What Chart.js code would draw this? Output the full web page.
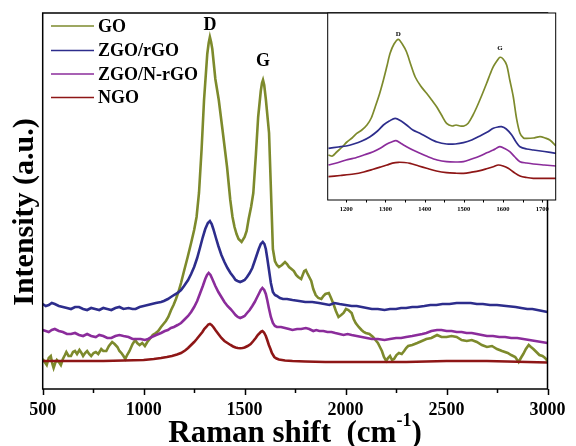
<!DOCTYPE html>
<html><head><meta charset="utf-8">
<script src="https://cdn.jsdelivr.net/npm/chart.js@4.4.1/dist/chart.umd.min.js"></script>
<style>
html,body{margin:0;padding:0;background:#fff;}
#wrap{position:relative;width:576px;height:446px;overflow:hidden;}
canvas{position:absolute;}
</style>
</head><body>
<div id="wrap">
<canvas id="main" width="576" height="446" style="left:0;top:0"></canvas>
<canvas id="inset" width="256" height="225" style="left:320px;top:0"></canvas>
</div>
<script>
// ---------- data ----------
const seriesNames = ['GO', 'ZGO/rGO', 'ZGO/N-rGO', 'NGO'];
const seriesColors = ['#7d8a2c', '#2d2d8c', '#8b2c9b', '#8e1616'];

const mainTickLabels = [500, 1000, 1500, 2000, 2500, 3000];
const mainMinorTicks = [750, 1250, 1750, 2250, 2750];
const insetTickLabels = [1200, 1300, 1400, 1500, 1600, 1700];
const insetMinorTicks = [1250, 1350, 1450, 1550, 1650];
const peakLabels = ['D', 'G'];

// main panel: [Raman shift (cm-1), intensity (a.u.)]
const goPts = [[500,30],[510,27],[520,24],[530,31],[540,33],[548,25],[554,21],[562,26],[570,29],[580,27],[590,24],[600,30],[610,34],[617,37],[628,33],[640,33],[650,37],[660,38],[670,35],[682,39],[692,36],[700,33],[710,36],[720,38],[730,35],[740,33],[752,36],[763,37],[775,35],[790,40],[800,38],[815,38],[828,43],[844,47],[856,45],[870,42],[880,38],[890,36],[900,33],[909,30],[918,34],[930,38],[945,45],[958,49],[968,46],[980,44],[993,46],[1006,43],[1018,47],[1030,50],[1045,54],[1060,56],[1072,58],[1086,62],[1098,65],[1110,68],[1122,72],[1136,79],[1148,84],[1160,90],[1172,97],[1185,106],[1200,118],[1218,132],[1235,146],[1250,159],[1262,172],[1274,196],[1287,240],[1299,289],[1315,335],[1322,346],[1328,352],[1334,347],[1340,340],[1355,310],[1372,289],[1390,260],[1413,222],[1429,189],[1440,172],[1450,162],[1460,155],[1470,150],[1485,147],[1500,152],[1510,158],[1520,170],[1532,182],[1543,196],[1556,235],[1567,272],[1580,298],[1586,306],[1591,309],[1597,304],[1605,290],[1621,256],[1632,189],[1640,140],[1650,128],[1660,124],[1670,122],[1685,124],[1700,127],[1710,125],[1720,122],[1732,120],[1744,118],[1755,114],[1765,112],[1780,110],[1795,118],[1803,119],[1810,116],[1820,112],[1830,108],[1840,100],[1852,94],[1865,91],[1880,90],[1890,93],[1900,95],[1917,96],[1928,91],[1940,85],[1952,78],[1965,72],[1978,74],[1990,76],[2002,80],[2014,79],[2030,76],[2040,70],[2050,66],[2065,62],[2079,59],[2090,57],[2100,56],[2118,55],[2136,52],[2148,49],[2160,46],[2170,42],[2180,38],[2190,32],[2201,28],[2210,31],[2220,33],[2230,29],[2240,30],[2252,34],[2264,36],[2278,35],[2290,38],[2300,41],[2310,43],[2330,44],[2355,46],[2378,48],[2400,50],[2425,51],[2453,54],[2475,52],[2500,52],[2525,53],[2550,52],[2575,49],[2600,48],[2625,49],[2650,47],[2675,44],[2700,42],[2725,43],[2750,40],[2775,38],[2803,36],[2820,34],[2840,32],[2857,27],[2868,31],[2880,35],[2893,40],[2907,44],[2918,42],[2930,40],[2945,37],[2960,34],[2975,33],[2988,31],[3000,28]];

const rgoPts = [[500,85],[515,83],[530,84],[545,86],[560,85],[580,83],[600,82],[620,81],[640,80],[660,82],[680,82],[700,80],[720,79],[740,81],[760,80],[780,79],[800,81],[820,80],[840,79],[860,81],[880,82],[900,80],[925,81],[945,80],[960,80],[980,82],[1000,83],[1020,84],[1040,85],[1060,86],[1086,87],[1100,88],[1120,90],[1135,92],[1150,94],[1168,96],[1185,99],[1200,103],[1220,109],[1235,115],[1250,122],[1265,131],[1280,142],[1293,152],[1305,160],[1318,166],[1328,168],[1337,165],[1345,160],[1358,151],[1370,143],[1385,134],[1400,127],[1415,121],[1430,116],[1445,112],[1455,109],[1465,108],[1478,107],[1490,108],[1500,109],[1512,112],[1525,116],[1538,121],[1550,128],[1560,134],[1570,140],[1580,145],[1590,147],[1598,145],[1605,140],[1612,131],[1620,120],[1630,106],[1640,97],[1650,94],[1660,93],[1675,91],[1690,90],[1710,90],[1737,89],[1770,88],[1800,87],[1835,87],[1868,86],[1895,85],[1920,84],[1945,86],[1970,85],[2000,84],[2030,83],[2055,83],[2080,82],[2105,81],[2130,80],[2160,80],[2193,79],[2220,80],[2250,80],[2275,81],[2300,81],[2330,82],[2355,82],[2390,83],[2420,84],[2450,84],[2480,85],[2515,85],[2550,86],[2585,86],[2620,86],[2650,85],[2680,85],[2715,84],[2750,84],[2795,83],[2842,82],[2870,81],[2900,80],[2925,80],[2950,79],[2975,78],[3000,77]];

const nrgoPts = [[500,59],[515,58],[530,57],[545,59],[560,60],[580,58],[600,57],[620,55],[640,55],[660,56],[680,54],[700,53],[720,55],[740,53],[763,52],[780,54],[800,53],[820,51],[840,51],[860,53],[880,54],[900,53],[925,52],[945,50],[960,50],[985,50],[1006,49],[1022,50],[1040,52],[1062,54],[1086,56],[1105,58],[1120,59],[1135,61],[1150,62],[1168,64],[1185,66],[1200,69],[1220,73],[1235,77],[1250,82],[1265,88],[1280,96],[1293,103],[1305,110],[1314,114],[1322,116],[1331,114],[1340,110],[1355,103],[1370,97],[1385,92],[1400,87],[1415,83],[1430,80],[1443,77],[1455,74],[1466,72],[1478,71],[1490,72],[1500,73],[1512,76],[1525,79],[1538,83],[1550,87],[1560,91],[1570,95],[1580,99],[1588,101],[1597,99],[1605,95],[1612,89],[1620,81],[1630,72],[1640,66],[1650,63],[1660,62],[1680,62],[1700,61],[1720,60],[1737,59],[1760,60],[1780,60],[1803,61],[1820,60],[1840,58],[1855,59],[1870,58],[1890,58],[1910,57],[1930,57],[1949,56],[1970,55],[1990,54],[2010,55],[2030,54],[2055,53],[2080,52],[2105,51],[2130,50],[2160,50],[2193,49],[2220,50],[2250,51],[2275,51],[2300,52],[2330,53],[2355,54],[2380,55],[2400,56],[2425,58],[2453,59],[2475,59],[2500,58],[2525,58],[2550,57],[2575,57],[2599,56],[2625,56],[2650,55],[2675,54],[2700,53],[2730,53],[2761,52],[2790,52],[2820,51],[2850,51],[2880,50],[2910,49],[2940,48],[2970,47],[3000,46]];

const ngoPts = [[500,28],[600,28],[700,28],[800,28],[900,28.5],[1000,29],[1050,30],[1086,31],[1115,32],[1140,33],[1165,34.5],[1185,36],[1205,38.5],[1220,41],[1235,44],[1250,47],[1263,50],[1275,53],[1291,57],[1300,60],[1310,62],[1320,64.5],[1328,65],[1336,64],[1345,62],[1357,58.5],[1370,55],[1385,51],[1400,48],[1415,46],[1430,44],[1443,42.5],[1455,41.5],[1466,41],[1478,40.7],[1490,41],[1500,41.5],[1515,43],[1530,45],[1543,48],[1555,51],[1565,54],[1575,56],[1582,57.5],[1588,58],[1596,56.5],[1605,53],[1612,49],[1620,44],[1628,40],[1635,36],[1647,32],[1658,30.5],[1670,29.5],[1685,29],[1700,28.5],[1737,28],[1800,27.5],[1900,27],[2000,27],[2100,27],[2200,27],[2300,27],[2400,27.5],[2500,28],[2600,28],[2700,28],[2800,27.5],[2900,27],[3000,26.5]];

// inset panel: [Raman shift (cm-1), intensity (a.u.)]
const igoPts = [[1155,45],[1165,44],[1176,48],[1190,53],[1202,58],[1215,62],[1227,66.7],[1240,70],[1253,75],[1264,82],[1274,93],[1285,106],[1295,120],[1304,134],[1312,146.7],[1322,156],[1333,160.7],[1343,156],[1354,148],[1365,135],[1376,123],[1390,114],[1405,106.7],[1418,100],[1431,93],[1443,85],[1456,76.7],[1470,74],[1480,75],[1490,74],[1500,74],[1511,76.7],[1522,84],[1533,93],[1546,105],[1558,116.7],[1567,126],[1575,133.3],[1584,139],[1592,142.7],[1600,141],[1609,135],[1617,120],[1626,103],[1634,82],[1643,66.7],[1652,62],[1660,61.7],[1677,62],[1694,63.3],[1707,62],[1719,60],[1735,54]];
const irgoPts = [[1155,51.7],[1180,53],[1200,54],[1219,56],[1240,59],[1261,63.3],[1280,69],[1295,75],[1310,79],[1325,81.7],[1340,79],[1354,75],[1370,70],[1388,66.7],[1410,62],[1432,58],[1456,56],[1478,56],[1499,57.3],[1520,60],[1541,64],[1560,68],[1575,71.7],[1587,73],[1596,73.3],[1608,71],[1622,65],[1633,58],[1643,53.3],[1660,51],[1677,50],[1705,48.5],[1735,46.7]];
const inrgoPts = [[1155,35],[1180,37.5],[1200,40],[1219,41.7],[1245,45],[1269,48.3],[1288,52],[1304,56],[1316,58],[1327,59.3],[1340,56.5],[1354,53.3],[1370,50],[1388,46.7],[1410,43],[1432,40],[1456,38.3],[1478,38],[1499,38.3],[1520,41],[1541,44],[1560,47.5],[1575,50],[1584,52],[1592,53.3],[1604,51.5],[1617,48.3],[1630,43],[1643,38.3],[1660,37],[1677,36],[1705,35],[1735,34]];
const ingoPts = [[1155,23.3],[1185,24.5],[1219,26],[1245,28],[1269,30.7],[1288,33],[1304,35],[1318,36.8],[1333,37.7],[1348,37.5],[1363,36.7],[1385,34],[1405,31.7],[1430,29],[1456,27.3],[1478,26.8],[1499,26.7],[1520,27.8],[1541,29.3],[1560,31.5],[1575,33.3],[1588,35],[1600,34],[1613,31.7],[1628,27.5],[1643,24],[1660,22.5],[1677,21.7],[1705,21.7],[1735,21.7]];

// ---------- helpers ----------
const pts = arr => arr.map(p => ({x: p[0], y: p[1]}));
const SERIF = '"Liberation Serif", "Times New Roman", serif';

function makeDatasets(sets, width, tension) {
  return sets.map((s, i) => ({
    label: seriesNames[i],
    data: pts(s),
    borderColor: seriesColors[i],
    backgroundColor: seriesColors[i],
    borderWidth: width,
    pointRadius: 0,
    tension: tension,
    fill: false,
    order: 4 - i
  }));
}

function tickPlugin(id, majorLen, minorLen, labels, lw) {
  return {
    id: id,
    afterDraw(chart) {
      const ctx = chart.ctx, ca = chart.chartArea, sx = chart.scales.x;
      ctx.save();
      ctx.strokeStyle = '#000';
      ctx.lineWidth = lw;
      ctx.beginPath();
      sx.ticks.forEach(t => {
        const px = Math.round(sx.getPixelForValue(t.value)) + 0.5;
        const len = labels.includes(t.value) ? majorLen : minorLen;
        ctx.moveTo(px, ca.bottom);
        ctx.lineTo(px, ca.bottom + len);
      });
      ctx.stroke();
      ctx.strokeRect(ca.left, ca.top, ca.right - ca.left, ca.bottom - ca.top);
      ctx.restore();
    }
  };
}

// ---------- main chart ----------
const mainDecor = {
  id: 'mainDecor',
  afterDraw(chart) {
    const ctx = chart.ctx, sx = chart.scales.x;
    ctx.save();
    ctx.fillStyle = '#000';
    ctx.font = 'bold 18px ' + SERIF;
    ctx.textBaseline = 'middle';
    ctx.textAlign = 'left';
    const rows = [26, 50.5, 74, 97.5];
    chart.data.datasets.forEach((ds, i) => {
      ctx.strokeStyle = ds.borderColor;
      ctx.lineWidth = 1.6;
      ctx.beginPath();
      ctx.moveTo(51, rows[i]);
      ctx.lineTo(94, rows[i]);
      ctx.stroke();
      ctx.fillStyle = '#000';
      ctx.fillText(ds.label, 98, rows[i] + 1);
    });
    ctx.textAlign = 'center';
    ctx.textBaseline = 'alphabetic';
    ctx.font = 'bold 18px ' + SERIF;
    ctx.fillText(peakLabels[0], sx.getPixelForValue(1328), 29.5);
    ctx.fillText(peakLabels[1], sx.getPixelForValue(1591), 65.5);
    ctx.save();
    ctx.translate(33, 212);
    ctx.rotate(-Math.PI / 2);
    ctx.font = 'bold 30px ' + SERIF;
    ctx.textAlign = 'center';
    ctx.textBaseline = 'alphabetic';
    ctx.fillText('Intensity (a.u.)', 0, 0);
    ctx.restore();
    const bigF = 'bold 31px ' + SERIF, supF = 'bold 18px ' + SERIF;
    const p1 = 'Raman shift  (cm', p2 = '-1', p3 = ')';
    ctx.font = bigF; const w1 = ctx.measureText(p1).width, w3 = ctx.measureText(p3).width;
    ctx.font = supF; const w2 = ctx.measureText(p2).width;
    const total = w1 + w2 + w3;
    const x0 = 295 - total / 2;
    const base = 442;
    ctx.textAlign = 'left';
    ctx.font = bigF; ctx.fillText(p1, x0, base);
    ctx.font = supF; ctx.fillText(p2, x0 + w1, base - 16);
    ctx.font = bigF; ctx.fillText(p3, x0 + w1 + w2, base);
    ctx.restore();
  }
};

new Chart(document.getElementById('main'), {
  type: 'line',
  data: { datasets: makeDatasets([goPts, rgoPts, nrgoPts, ngoPts], 2.6, 0) },
  options: {
    responsive: false,
    animation: false,
    devicePixelRatio: 1,
    layout: { padding: { left: 42.7, right: 20.5, top: 13, bottom: 0 } },
    plugins: { legend: { display: false }, tooltip: { enabled: false } },
    scales: {
      x: {
        type: 'linear', min: 500, max: 3000,
        afterBuildTicks: s => { s.ticks = mainTickLabels.concat(mainMinorTicks).sort((a, b) => a - b).map(v => ({value: v})); },
        afterFit: s => { s.height = 57; },
        grid: { display: false, drawTicks: false },
        border: { display: false },
        ticks: {
          autoSkip: false, maxRotation: 0, padding: 10.5, color: '#000',
          font: { family: SERIF, size: 18, weight: 'bold' },
          callback: v => mainTickLabels.includes(v) ? String(v) : ''
        }
      },
      y: { display: false, min: 0, max: 376 }
    }
  },
  plugins: [tickPlugin('mainTicks', 6, 4, mainTickLabels, 1.5), mainDecor]
});

// ---------- inset chart ----------
const insetDecor = {
  id: 'insetDecor',
  beforeDraw(chart) {
    const ctx = chart.ctx, ca = chart.chartArea;
    ctx.save();
    ctx.fillStyle = '#fff';
    ctx.fillRect(ca.left, ca.top, ca.right - ca.left, ca.bottom - ca.top);
    ctx.restore();
  },
  afterDraw(chart) {
    const ctx = chart.ctx, sx = chart.scales.x;
    ctx.save();
    ctx.fillStyle = '#000';
    ctx.font = 'bold 7px ' + SERIF;
    ctx.textAlign = 'center';
    ctx.textBaseline = 'alphabetic';
    ctx.fillText(peakLabels[0], sx.getPixelForValue(1333), 35.5);
    ctx.fillText(peakLabels[1], sx.getPixelForValue(1592), 50);
    ctx.restore();
  }
};

new Chart(document.getElementById('inset'), {
  type: 'line',
  data: { datasets: makeDatasets([igoPts, irgoPts, inrgoPts, ingoPts], 1.7, 0.3) },
  options: {
    responsive: false,
    animation: false,
    devicePixelRatio: 1,
    layout: { padding: { left: 7.7, right: 20.3, top: 13, bottom: 0 } },
    plugins: { legend: { display: false }, tooltip: { enabled: false } },
    scales: {
      x: {
        type: 'linear', min: 1153, max: 1734,
        afterBuildTicks: s => { s.ticks = insetTickLabels.concat(insetMinorTicks).sort((a, b) => a - b).map(v => ({value: v})); },
        afterFit: s => { s.height = 25; },
        grid: { display: false, drawTicks: false },
        border: { display: false },
        ticks: {
          autoSkip: false, maxRotation: 0, padding: 5.5, color: '#000',
          font: { family: SERIF, size: 6.5, weight: 'bold' },
          callback: v => insetTickLabels.includes(v) ? String(v) : ''
        }
      },
      y: { display: false, min: 0, max: 187 }
    }
  },
  plugins: [insetDecor, tickPlugin('insetTicks', 2.5, 2.5, insetTickLabels, 1)]
});
</script>
</body></html>
